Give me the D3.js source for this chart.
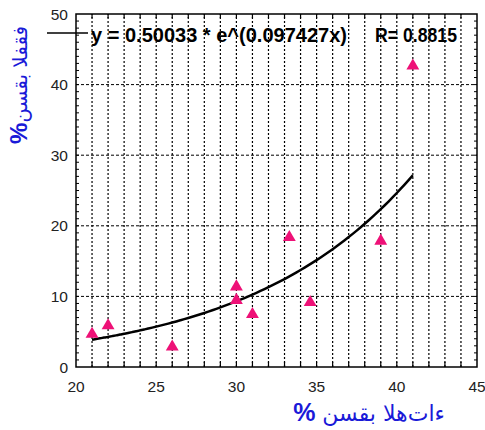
<!DOCTYPE html>
<html><head><meta charset="utf-8">
<script src="https://cdn.jsdelivr.net/npm/d3@7/dist/d3.min.js"></script>
<style>body{margin:0;background:#fff}</style>
</head><body>
<script>
const xValues = [21, 22, 26, 30, 30, 31, 33.3, 34.6, 39, 41];
const yValues = [4.8, 6.0, 3.0, 11.5, 9.6, 7.6, 18.5, 9.3, 18.0, 42.8];
const xTicks = [20, 25, 30, 35, 40, 45];
const yTicks = [0, 10, 20, 30, 40, 50];
const fitA = 0.50033, fitB = 0.097427;
const fitRange = [21, 41];
const legendEq = "y = 0.50033 * e^(0.097427x)";
const legendR = "R= 0.8815";
const xLabelWords = "ءات\u200Cهلا بقسن ";
const yLabelWords = "فقفلا بقسن";
const pctSign = "%";

const W = 485, H = 430;
const m = {l:76, r:8, t:14, b:63};
const svg = d3.select("body").append("svg").attr("width", W).attr("height", H);
const x = d3.scaleLinear().domain([20,45]).range([m.l, W-m.r]);
const y = d3.scaleLinear().domain([0,50]).range([H-m.b, m.t]);

const g = svg.append("g");
g.selectAll(".vg").data(d3.range(21,45)).join("line")
  .attr("x1", d=>x(d)).attr("x2", d=>x(d)).attr("y1", y(0)).attr("y2", y(50))
  .attr("stroke","#000").attr("stroke-width",1.2).attr("stroke-dasharray","2,2");
g.selectAll(".hg").data([10,20,30,40]).join("line")
  .attr("x1", x(20)).attr("x2", x(45)).attr("y1", d=>y(d)).attr("y2", d=>y(d))
  .attr("stroke","#000").attr("stroke-width",1).attr("stroke-dasharray","3,2");

const yMinor = d3.range(1,50);
g.selectAll(".ylt").data(yMinor).join("line")
  .attr("x1", x(20)).attr("x2", x(20)+3).attr("y1", d=>y(d)).attr("y2", d=>y(d))
  .attr("stroke","#000").attr("stroke-width",1);
g.selectAll(".yrt").data(yMinor).join("line")
  .attr("x1", x(45)).attr("x2", x(45)-3).attr("y1", d=>y(d)).attr("y2", d=>y(d))
  .attr("stroke","#000").attr("stroke-width",1);
const xMinor = d3.range(21,45);
g.selectAll(".xbt").data(xMinor).join("line")
  .attr("x1", d=>x(d)).attr("x2", d=>x(d)).attr("y1", y(0)).attr("y2", y(0)-5)
  .attr("stroke","#000").attr("stroke-width",1.2);
g.selectAll(".xtt").data(xMinor).join("line")
  .attr("x1", d=>x(d)).attr("x2", d=>x(d)).attr("y1", y(50)).attr("y2", y(50)+4)
  .attr("stroke","#000").attr("stroke-width",1.2);

svg.append("rect").attr("x", x(20)).attr("y", y(50)).attr("width", x(45)-x(20)).attr("height", y(0)-y(50))
  .attr("fill","none").attr("stroke","#000").attr("stroke-width",1.5);

svg.selectAll(".xl").data(xTicks).join("text")
  .attr("x", d=>x(d)).attr("y", y(0)+25).attr("text-anchor","middle")
  .attr("font-family","Liberation Sans, Arial, sans-serif").attr("font-size",15.5).attr("fill","#222")
  .text(d=>d);
svg.selectAll(".yl").data(yTicks).join("text")
  .attr("x", x(20)-8).attr("y", d=>y(d)+5.5).attr("text-anchor","end")
  .attr("font-family","Liberation Sans, Arial, sans-serif").attr("font-size",15.5).attr("fill","#222")
  .text(d=>d);

const curvePts = d3.range(fitRange[0], fitRange[1]+0.001, 0.25).map(v=>[v, fitA*Math.exp(fitB*v)]);
svg.append("path").datum(curvePts)
  .attr("d", d3.line().x(d=>x(d[0])).y(d=>y(d[1])).curve(d3.curveMonotoneX))
  .attr("fill","none").attr("stroke","#000").attr("stroke-width",2.5);

svg.selectAll(".pt").data(xValues.map((v,i)=>[v,yValues[i]])).join("path")
  .attr("transform", d=>`translate(${x(d[0])},${y(d[1])+1})`)
  .attr("d", d3.symbol().type(d3.symbolTriangle).size(72))
  .attr("fill","#ee1177");

svg.append("line").attr("x1",47).attr("x2",88).attr("y1",33).attr("y2",33)
  .attr("stroke","#000").attr("stroke-width",1.5);
svg.append("text").attr("x",91).attr("y",42)
  .attr("font-family","Liberation Sans, Arial, sans-serif").attr("font-weight","bold")
  .attr("font-size",20).attr("fill","#000")
  .attr("textLength", 256).attr("lengthAdjust","spacingAndGlyphs")
  .text(legendEq);
svg.append("text").attr("x",375).attr("y",42)
  .attr("font-family","Liberation Sans, Arial, sans-serif").attr("font-weight","bold")
  .attr("font-size",20).attr("fill","#000")
  .attr("textLength", 82).attr("lengthAdjust","spacingAndGlyphs")
  .text(legendR);

const blue = "#1a1ad8";
const xt = svg.append("text").attr("x", 369).attr("y", 421).attr("text-anchor","middle")
  .style("direction","rtl")
  .attr("font-family","DejaVu Sans, sans-serif").attr("font-size",22).attr("fill",blue);
xt.append("tspan").text(xLabelWords);
xt.append("tspan").attr("font-weight","bold").attr("font-family","Liberation Sans, Arial, sans-serif")
  .attr("font-size",25).text(pctSign);

const yt = svg.append("text").attr("transform","translate(27,85) rotate(-90)").attr("text-anchor","middle")
  .style("direction","rtl")
  .attr("font-family","DejaVu Sans, sans-serif").attr("font-size",20).attr("fill",blue);
yt.append("tspan").text(yLabelWords);
yt.append("tspan").attr("font-weight","bold").attr("font-family","Liberation Sans, Arial, sans-serif")
  .attr("font-size",24).text(pctSign);
</script>
</body></html>
